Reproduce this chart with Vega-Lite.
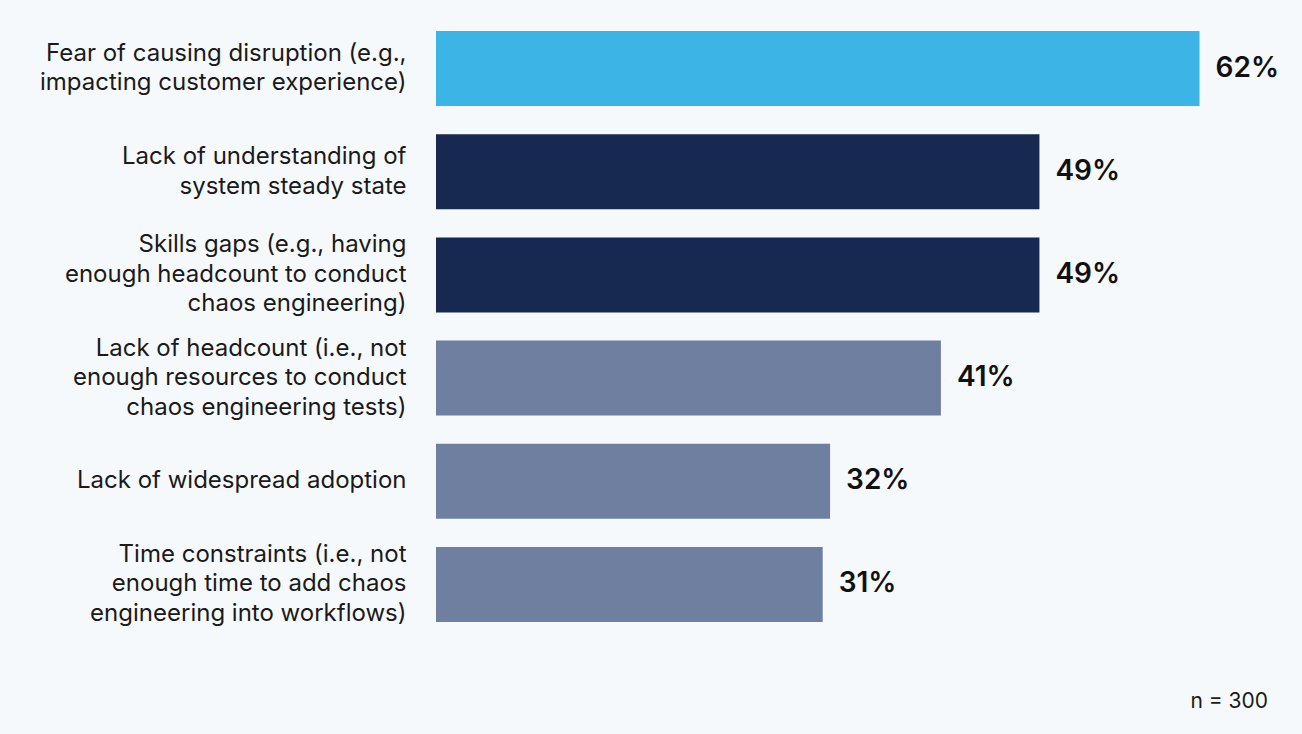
{
  "$schema": "https://vega.github.io/schema/vega-lite/v6.json",
  "autosize": {"type": "none"},
  "width": 832,
  "height": 619,
  "padding": {"left": 436, "top": 17, "right": 34, "bottom": 98},
  "background": "#F6F9FB",
  "config": {"view": {"stroke": null}, "font": "Inter"},
  "title": {
    "text": "n = 300",
    "orient": "bottom",
    "anchor": "end",
    "frame": "group",
    "fontSize": 21,
    "fontWeight": "normal",
    "color": "#1a1a1a",
    "font": "Inter",
    "offset": 55
  },
  "data": {
    "values": [
      {"label": "Fear of causing disruption (e.g.,|impacting customer experience)", "value": 62.0, "pct": "62%", "group": "top"},
      {"label": "Lack of understanding of|system steady state", "value": 49.0, "pct": "49%", "group": "mid"},
      {"label": "Skills gaps (e.g., having|enough headcount to conduct|chaos engineering)", "value": 49.0, "pct": "49%", "group": "mid"},
      {"label": "Lack of headcount (i.e., not|enough resources to conduct|chaos engineering tests)", "value": 41.0, "pct": "41%", "group": "low"},
      {"label": "Lack of widespread adoption", "value": 32.0, "pct": "32%", "group": "low"},
      {"label": "Time constraints (i.e., not|enough time to add chaos|engineering into workflows)", "value": 31.4, "pct": "31%", "group": "low"}
    ]
  },
  "encoding": {
    "y": {
      "field": "label",
      "type": "nominal",
      "sort": null,
      "title": null,
      "scale": {"paddingInner": 0.273, "paddingOuter": 0.1365},
      "axis": {
        "domain": false,
        "ticks": false,
        "labelPadding": 30,
        "labelFontSize": 24,
        "labelColor": "#1a1a1a",
        "labelFont": "Inter",
        "labelLimit": 0,
        "labelLineHeight": 29.5,
        "labelExpr": "split(datum.value, '|')",
        "labelOffset": {"expr": "14.75 - 14.75 * length(split(datum.value, '|'))"}
      }
    },
    "x": {
      "field": "value",
      "type": "quantitative",
      "scale": {"domain": [0, 67.56], "nice": false},
      "axis": null
    }
  },
  "layer": [
    {
      "mark": {"type": "bar"},
      "encoding": {
        "color": {
          "field": "group",
          "type": "nominal",
          "scale": {"domain": ["top", "mid", "low"], "range": ["#3DB4E6", "#172951", "#6E7FA0"]},
          "legend": null
        }
      }
    },
    {
      "mark": {"type": "text", "align": "left", "baseline": "middle", "dx": 16, "fontSize": 28, "fontWeight": 600, "font": "Inter", "color": "#111111"},
      "encoding": {"text": {"field": "pct"}}
    }
  ]
}
